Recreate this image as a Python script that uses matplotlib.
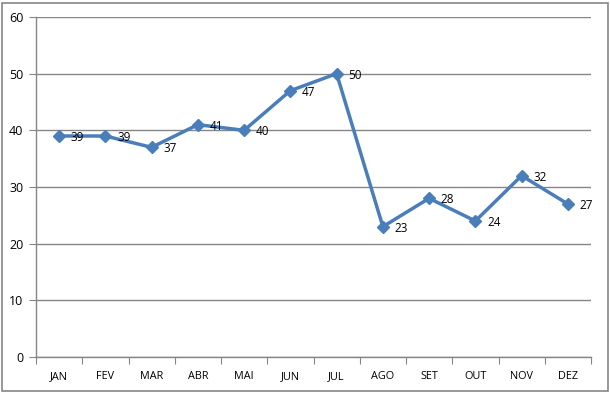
import matplotlib.pyplot as plt
from matplotlib.patches import Rectangle
import numpy as np

months = ['JAN', 'FEV', 'MAR', 'ABR', 'MAI', 'JUN', 'JUL', 'AGO', 'SET', 'OUT', 'NOV', 'DEZ']
values = [39, 39, 37, 41, 40, 47, 50, 23, 28, 24, 32, 27]
y_ticks = [0, 10, 20, 30, 40, 50, 60]

line_color = '#4a7ebb'
axis_color = '#868686'

plt.rcParams['font.family'] = ['Open Sans', 'DejaVu Sans']

fig = plt.figure(figsize=(6.1, 3.96), dpi=100)
fig.patches.append(Rectangle((2 / 610, 5 / 396), 606 / 610, 388 / 396,
                             transform=fig.transFigure, fill=False,
                             edgecolor=axis_color, linewidth=1.2))

ax = fig.add_axes([36 / 610, 1 - 357 / 396, 555 / 610, 340 / 396])

x = np.arange(len(months)) + 0.5
ax.plot(x, values, color=line_color, linewidth=2.5, marker='D',
        markersize=6, zorder=3)
for xi, v in zip(x, values):
    ax.annotate(str(v), (xi, v), xytext=(8.5, -1), textcoords='offset points',
                ha='left', va='center', fontsize=8.5, color='black')

ax.set_xlim(0, len(months))
ax.set_ylim(0, 60)
ax.set_yticks(y_ticks)
ax.set_xticks(np.arange(len(months) + 1))
ax.set_xticklabels([])
ax.set_xticks(x, minor=True)
ax.set_xticklabels(months, minor=True, fontsize=7.8)
ax.tick_params(axis='x', which='minor', length=0, pad=10)
ax.tick_params(axis='x', which='major', length=5, color=axis_color)
ax.tick_params(axis='y', length=5, color=axis_color, labelsize=9, pad=4)

ax.yaxis.grid(True, color=axis_color, linewidth=1)
ax.set_axisbelow(True)
for side in ['top', 'right']:
    ax.spines[side].set_visible(False)
for side in ['left', 'bottom']:
    ax.spines[side].set_color(axis_color)
    ax.spines[side].set_linewidth(1)

fig.savefig('out.png', dpi=100)
